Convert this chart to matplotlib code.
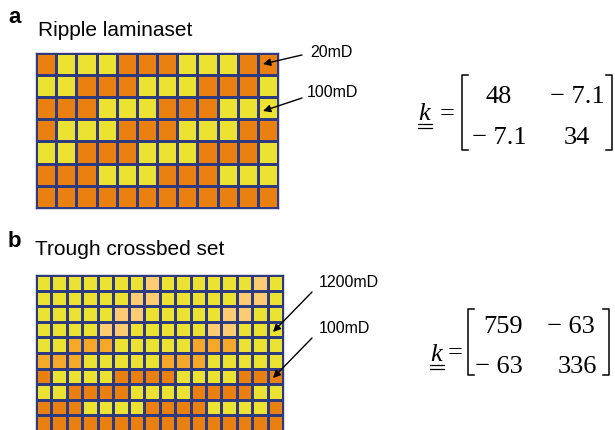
import numpy as np
import matplotlib.pyplot as plt
from matplotlib.colors import ListedColormap

# cell codes: Y = 100mD (yellow), O = 20mD (orange), P = 1200mD (peach), M = medium orange
ripple_rows = [
    "OYYYOOOYYYOO",
    "YYOOOYYYOOOY",
    "OOOYYYOOOYYY",
    "OYYYOOOYYYOO",
    "YYOOOYYYOOOY",
    "OOOYYYOOOYYY",
    "OOOOOOOOOOOO",
]
trough_rows = [
    "YYYYYYYPYYYYYYPY",
    "YYYYYYPPYYYYYPPY",
    "YYYYYPPYYYYYPPYY",
    "YYYYPPYYYYYPPYYY",
    "YYMMMYYYYYMMMYYY",
    "MMMYYYYYMMMYYYYY",
    "OYYYYOOOOYYYYOOO",
    "YYOOOOYYYYOOOOYY",
    "OOOYYYYOOOOYYYYO",
    "OOOOOOOOOOOOOOOO",
]
codes = {"Y": 0, "O": 1, "P": 2, "M": 3}
cell_colors = ["#ebe232", "#e9800f", "#fdcb72", "#f6a928"]

k_ripple = [["48", "\u2212 7.1"], ["\u2212 7.1", "34"]]
k_trough = [["759", "\u2212 63"], ["\u2212 63", "336"]]

W, H = 615, 430
navy = "#2e3a80"
fig = plt.figure(figsize=(W / 100, H / 100), dpi=100)
cmap = ListedColormap(cell_colors)


def grid_axes(rows, left, top, cw, ch):
    nr, nc = len(rows), len(rows[0])
    arr = np.array([[codes[c] for c in r] for r in rows])
    gx = fig.add_axes([left / W, 1 - (top + nr * ch) / H, nc * cw / W, nr * ch / H])
    gx.pcolormesh(arr, cmap=cmap, vmin=-0.5, vmax=3.5,
                  edgecolors=navy, linewidth=0.75)
    gx.set_xlim(0, nc)
    gx.set_ylim(nr, 0)
    gx.set_xticks([])
    gx.set_yticks([])
    for s in gx.spines.values():
        s.set_color(navy)
        s.set_linewidth(1.0)
    return gx


grid_axes(ripple_rows, 36, 53, 20.17, 22.1)
grid_axes(trough_rows, 36, 275, 15.45, 15.6)

# overlay in pixel coordinates for labels, arrows and matrices
ax = fig.add_axes([0, 0, 1, 1])
ax.set_xlim(0, W)
ax.set_ylim(H, 0)
ax.axis("off")

sans = "Liberation Sans"
serif = "Liberation Serif"

ax.text(8, 23, "a", fontsize=16, fontweight="bold", family=sans, va="baseline")
ax.text(38, 36, "Ripple laminaset", fontsize=15, family=sans, va="baseline")
ax.text(8, 247, "b", fontsize=16, fontweight="bold", family=sans, va="baseline")
ax.text(35, 255, "Trough crossbed set", fontsize=15, family=sans, va="baseline")

labels = [
    ("20mD", 310, 57, (302, 55), (263, 64)),
    ("100mD", 307, 97, (302, 98), (263, 111)),
    ("1200mD", 319, 287, (312, 292), (273, 332)),
    ("100mD", 319, 333, (312, 338), (273, 378)),
]
for txt, tx, ty, tail, tip in labels:
    ax.text(tx, ty, txt, fontsize=11.5, family=sans, va="baseline")
    ax.annotate("", xy=tip, xytext=tail,
                arrowprops=dict(arrowstyle="-|>", color="black", lw=1.0,
                                mutation_scale=11, shrinkA=0, shrinkB=0))


def matrix(vals, kx, kbase, eqx, eqy, lb, rb, top, bot, colx, rowy):
    ax.text(kx, kbase, "k", fontsize=19, family=serif, style="italic", va="baseline")
    for uy in (kbase + 4, kbase + 8):
        ax.plot([kx, kx + 14], [uy, uy], color="black", lw=0.9)
    ax.text(eqx, eqy, "=", fontsize=19, family=serif, ha="center", va="center")
    sw = 6
    ax.plot([lb + sw, lb, lb, lb + sw], [top, top, bot, bot], color="black", lw=1.1)
    ax.plot([rb - sw, rb, rb, rb - sw], [top, top, bot, bot], color="black", lw=1.1)
    for i, row in enumerate(vals):
        for j, v in enumerate(row):
            ax.text(colx[i][j], rowy[i], v, fontsize=19, family=serif,
                    ha="center", va="baseline")


matrix(k_ripple, 418, 120, 447, 114, 462, 612, 75, 150,
       [[499, 577], [499, 577]], [103, 144])
matrix(k_trough, 430, 361, 455, 353, 468, 609, 309, 375,
       [[503, 571], [499, 577]], [333, 373])

fig.savefig("out.png", dpi=100)
